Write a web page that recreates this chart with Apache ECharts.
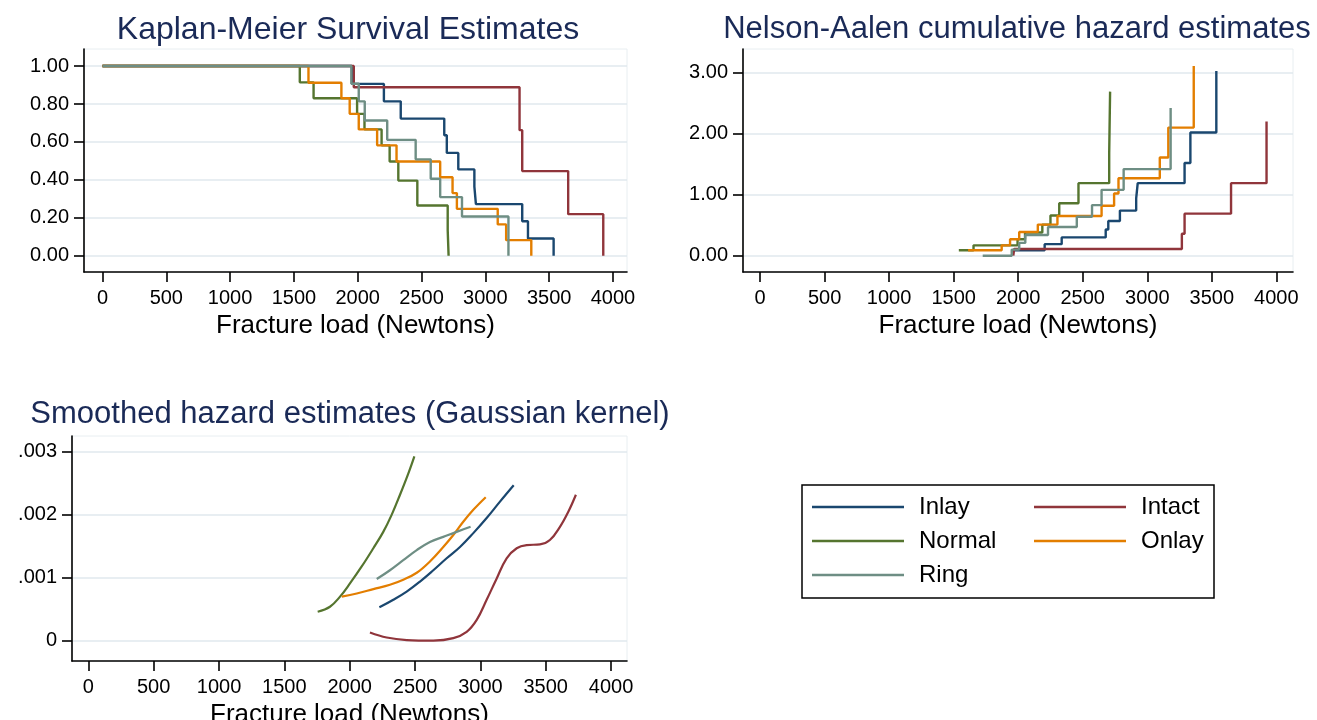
<!DOCTYPE html>
<html>
<head>
<meta charset="utf-8">
<title>Fracture load - survival and hazard</title>
<script src="https://cdn.jsdelivr.net/npm/echarts@6/dist/echarts.min.js"></script>
<style>
  html, body { margin: 0; padding: 0; background: #fff; }
  #chart { width: 1317px; height: 720px; }
</style>
</head>
<body>
<div id="chart"></div>
<script>
const groups = ['Inlay', 'Intact', 'Normal', 'Onlay', 'Ring'];

// Kaplan-Meier: [fracture load, survival after the step]
const kmInlay = [[0, 1], [1955, 0.906], [2205, 0.814], [2337, 0.723], [2678, 0.635], [2698, 0.542], [2788, 0.455], [2914, 0.364], [2926, 0.272], [3289, 0.182], [3334, 0.091], [3535, 0]];
const kmIntact = [[0, 1], [1969, 0.888], [3268, 0.662], [3289, 0.446], [3649, 0.219], [3924, 0]];
const kmNormal = [[0, 1], [1546, 0.914], [1654, 0.830], [1995, 0.748], [2053, 0.666], [2187, 0.582], [2250, 0.497], [2318, 0.396], [2467, 0.265], [2705, 0.134], [2712, 0]];
const kmOnlay = [[0, 1], [1614, 0.912], [1872, 0.830], [1937, 0.748], [2008, 0.666], [2152, 0.582], [2304, 0.497], [2646, 0.414], [2743, 0.330], [2777, 0.247], [3097, 0.165], [3163, 0.082], [3360, 0]];
const kmRing = [[0, 1], [1950, 0.907], [2008, 0.814], [2055, 0.713], [2231, 0.611], [2454, 0.508], [2572, 0.406], [2646, 0.309], [2817, 0.207], [3181, 0]];

// Nelson-Aalen cumulative hazard: [fracture load, H after the step]
const naInlay = [[1955, 0.09], [2205, 0.19], [2337, 0.30], [2678, 0.43], [2698, 0.57], [2788, 0.74], [2914, 0.94], [2926, 1.19], [3289, 1.52], [3334, 2.02], [3535, 3.03]];
const naIntact = [[1962, 0], [1969, 0.11], [3268, 0.36], [3289, 0.69], [3649, 1.19], [3924, 2.20]];
const naNormal = [[1540, 0.09], [1654, 0.17], [1995, 0.27], [2053, 0.38], [2187, 0.51], [2250, 0.66], [2318, 0.86], [2467, 1.19], [2705, 1.68], [2712, 2.69]];
const naOnlay = [[1612, 0.09], [1872, 0.17], [1937, 0.27], [2008, 0.39], [2152, 0.51], [2304, 0.65], [2646, 0.82], [2743, 1.02], [2777, 1.27], [3097, 1.61], [3163, 2.10], [3360, 3.11]];
const naRing = [[1725, 0], [1950, 0.10], [2008, 0.21], [2055, 0.34], [2231, 0.47], [2454, 0.64], [2572, 0.83], [2646, 1.08], [2817, 1.42], [3181, 2.42]];

// Smoothed hazard (Gaussian kernel): [fracture load, hazard]
const smInlay = [[2227, 0.00053], [2334, 0.00065], [2436, 0.00078], [2538, 0.00094], [2640, 0.00112], [2742, 0.00131], [2844, 0.00149], [2946, 0.00171], [3048, 0.00195], [3150, 0.00221], [3255, 0.00247]];
const smIntact = [[2155, 0.00013], [2283, 0.00005], [2436, 0.00001], [2640, 0.00000], [2793, 0.00004], [2895, 0.00014], [2972, 0.00033], [3048, 0.00065], [3125, 0.00099], [3201, 0.00131], [3278, 0.00147], [3354, 0.00152], [3456, 0.00153], [3532, 0.00160], [3609, 0.00181], [3673, 0.00205], [3731, 0.00232]];
const smNormal = [[1755, 0.00046], [1849, 0.00054], [1926, 0.00070], [2002, 0.00091], [2092, 0.00118], [2181, 0.00147], [2257, 0.00173], [2321, 0.00200], [2385, 0.00232], [2449, 0.00266], [2495, 0.00293]];
const smOnlay = [[1939, 0.00070], [2054, 0.00075], [2181, 0.00082], [2308, 0.00089], [2410, 0.00097], [2513, 0.00108], [2614, 0.00126], [2716, 0.00149], [2793, 0.00168], [2869, 0.00189], [2946, 0.00208], [3041, 0.00228]];
const smRing = [[2207, 0.00098], [2308, 0.00112], [2410, 0.00128], [2513, 0.00144], [2614, 0.00157], [2716, 0.00165], [2818, 0.00173], [2925, 0.00181]];

const xTicks = [0, 500, 1000, 1500, 2000, 2500, 3000, 3500, 4000];
const kmTicks = [0, 0.2, 0.4, 0.6, 0.8, 1];
const naTicks = [0, 1, 2, 3];
const smTicks = [0, 0.001, 0.002, 0.003];

const km = { Inlay: kmInlay, Intact: kmIntact, Normal: kmNormal, Onlay: kmOnlay, Ring: kmRing };
const na = { Inlay: naInlay, Intact: naIntact, Normal: naNormal, Onlay: naOnlay, Ring: naRing };
const sm = { Inlay: smInlay, Intact: smIntact, Normal: smNormal, Onlay: smOnlay, Ring: smRing };

const colors = { Inlay: '#1a476f', Intact: '#90353b', Normal: '#55752f', Onlay: '#e37e00', Ring: '#6e8e84' };
const font = "'Liberation Sans', Arial, sans-serif";

function xAxis(gridIndex, min, max) {
  return {
    type: 'value', gridIndex: gridIndex, min: min, max: max,
    name: 'Fracture load (Newtons)', nameLocation: 'middle', nameGap: 41,
    nameTextStyle: { fontSize: 26, color: '#000', fontFamily: font },
    axisLine: { show: true, onZero: false, lineStyle: { color: '#000', width: 1.6 } },
    axisTick: { show: true, length: 10, customValues: xTicks, lineStyle: { color: '#000', width: 1.6 } },
    axisLabel: { fontSize: 20, color: '#000', margin: 16, fontFamily: font, customValues: xTicks,
      formatter: function (v) { return String(v); } },
    splitLine: { show: false }
  };
}

function yAxis(gridIndex, min, max, ticks, fmt) {
  return {
    type: 'value', gridIndex: gridIndex, min: min, max: max,
    axisLine: { show: true, onZero: false, lineStyle: { color: '#000', width: 1.6 } },
    axisTick: { show: true, length: 10, customValues: ticks, lineStyle: { color: '#000', width: 1.6 } },
    axisLabel: { fontSize: 20, color: '#000', margin: 15, fontFamily: font, customValues: ticks, formatter: fmt },
    splitLine: { show: true, lineStyle: { color: '#e0e9ee', width: 1.5 } }
  };
}

const series = [];
groups.forEach(function (g) {
  series.push({ name: g, type: 'line', xAxisIndex: 0, yAxisIndex: 0, step: 'end', symbol: 'none',
    data: km[g], lineStyle: { width: 2.4, color: colors[g] }, itemStyle: { color: colors[g] } });
  series.push({ name: g, type: 'line', xAxisIndex: 1, yAxisIndex: 1, step: 'end', symbol: 'none',
    data: na[g], lineStyle: { width: 2.4, color: colors[g] }, itemStyle: { color: colors[g] } });
  series.push({ name: g, type: 'line', xAxisIndex: 2, yAxisIndex: 2, smooth: 0.4, symbol: 'none',
    data: sm[g], lineStyle: { width: 2.2, color: colors[g] }, itemStyle: { color: colors[g] } });
});

const titleStyle = function (size) {
  return { fontSize: size, fontWeight: 'normal', color: '#1a2a57', fontFamily: font };
};

const chart = echarts.init(document.getElementById('chart'), null, { renderer: 'canvas' });
chart.setOption({
  animation: false,
  backgroundColor: '#fff',
  textStyle: { fontFamily: font },
  title: [
    { text: 'Kaplan-Meier Survival Estimates', left: 348, top: 14, textAlign: 'center', padding: 0, textStyle: titleStyle(32) },
    { text: 'Nelson-Aalen cumulative hazard estimates', left: 1017, top: 14, textAlign: 'center', padding: 0, textStyle: titleStyle(31) },
    { text: 'Smoothed hazard estimates (Gaussian kernel)', left: 350, top: 399, textAlign: 'center', padding: 0, textStyle: titleStyle(31) }
  ],
  grid: [
    { left: 84, top: 49, width: 543, height: 223, show: true, borderColor: '#e8eef1', borderWidth: 1, outerBoundsMode: 'none' },
    { left: 743, top: 49, width: 550, height: 223, show: true, borderColor: '#e8eef1', borderWidth: 1, outerBoundsMode: 'none' },
    { left: 72, top: 436, width: 555, height: 225, show: true, borderColor: '#e8eef1', borderWidth: 1, outerBoundsMode: 'none' }
  ],
  xAxis: [
    xAxis(0, -145, 4110),
    xAxis(1, -132, 4129),
    xAxis(2, -125, 4122)
  ],
  yAxis: [
    yAxis(0, -0.086, 1.09, kmTicks, function (v) { return v.toFixed(2); }),
    yAxis(1, -0.267, 3.389, naTicks, function (v) { return v.toFixed(2); }),
    yAxis(2, -0.000323, 0.003254, smTicks, function (v) { return v === 0 ? '0' : v.toFixed(3).replace(/^0/, ''); })
  ],
  legend: {
    data: groups, left: 812, top: 495, width: 440, orient: 'horizontal',
    icon: 'rect', itemWidth: 92, itemHeight: 2.5, itemGap: 10, padding: 0,
    selectedMode: false,
    textStyle: { fontSize: 24, color: '#000', width: 105, lineHeight: 24, padding: [0, 0, 0, 10], fontFamily: font }
  },
  graphic: [
    { type: 'rect', shape: { x: 802, y: 485, width: 412, height: 113 }, silent: true,
      style: { fill: 'none', stroke: '#000', lineWidth: 1.5 } }
  ],
  series: series
});
</script>
</body>
</html>
